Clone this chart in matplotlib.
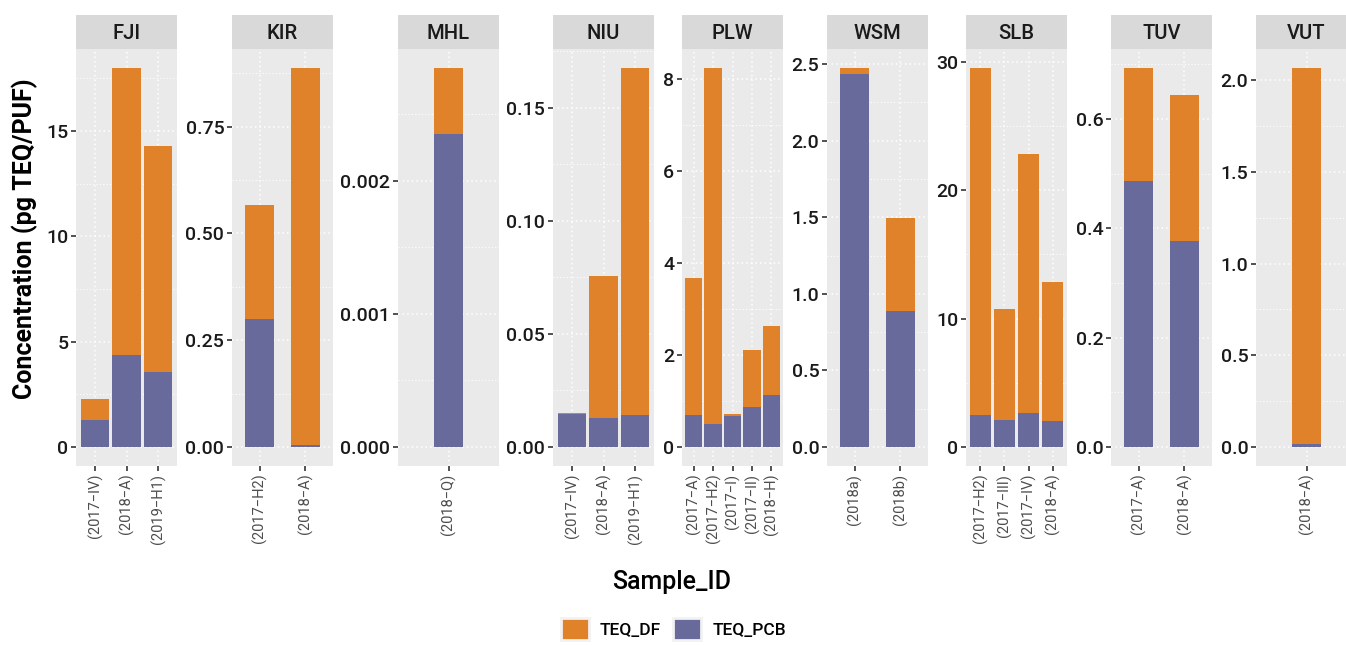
import numpy as np
import matplotlib
matplotlib.use("Agg")
import matplotlib.pyplot as plt
from matplotlib.patches import Patch
from matplotlib.ticker import MultipleLocator, FormatStrFormatter

plt.rcParams['font.family'] = ['Roboto', 'DejaVu Sans']

# countries shown as facets, left to right
countries = ["FJI", "KIR", "MHL", "NIU", "PLW", "WSM", "SLB", "TUV", "VUT"]

samples = {
    "FJI": ["(2017\u2212IV)", "(2018\u2212A)", "(2019\u2212H1)"],
    "KIR": ["(2017\u2212H2)", "(2018\u2212A)"],
    "MHL": ["(2018\u2212Q)"],
    "NIU": ["(2017\u2212IV)", "(2018\u2212A)", "(2019\u2212H1)"],
    "PLW": ["(2017\u2212A)", "(2017\u2212H2)", "(2017\u2212I)", "(2017\u2212II)", "(2018\u2212H)"],
    "WSM": ["(2018a)", "(2018b)"],
    "SLB": ["(2017\u2212H2)", "(2017\u2212III)", "(2017\u2212IV)", "(2018\u2212A)"],
    "TUV": ["(2017\u2212A)", "(2018\u2212A)"],
    "VUT": ["(2018\u2212A)"],
}

# TEQ from dioxins/furans and from dl-PCBs (pg TEQ/PUF)
teq_pcb = {
    "FJI": [1.28, 4.36, 3.55],
    "KIR": [0.299, 0.004],
    "MHL": [0.002352],
    "NIU": [0.0145, 0.0127, 0.0140],
    "PLW": [0.69, 0.51, 0.67, 0.86, 1.14],
    "WSM": [2.434, 0.89],
    "SLB": [2.46, 2.07, 2.62, 2.0],
    "TUV": [0.487, 0.377],
    "VUT": [0.015],
}
teq_df = {
    "FJI": [0.99, 13.64, 10.75],
    "KIR": [0.267, 0.883],
    "MHL": [0.000494],
    "NIU": [0.0004, 0.0630, 0.1535],
    "PLW": [2.99, 7.73, 0.04, 1.24, 1.50],
    "WSM": [0.040, 0.606],
    "SLB": [27.04, 8.71, 20.22, 10.88],
    "TUV": [0.206, 0.267],
    "VUT": [2.051],
}

# y break spacing and label format for each facet
y_step = {"FJI": 5, "KIR": 0.25, "MHL": 0.001, "NIU": 0.05, "PLW": 2,
          "WSM": 0.5, "SLB": 10, "TUV": 0.2, "VUT": 0.5}
y_fmt = {"FJI": "%.0f", "KIR": "%.2f", "MHL": "%.3f", "NIU": "%.2f", "PLW": "%.0f",
         "WSM": "%.1f", "SLB": "%.0f", "TUV": "%.1f", "VUT": "%.1f"}

col_df = "#E08229"
col_pcb = "#676A9A"
panel_bg = "#EBEAEB"
strip_bg = "#D9D9D9"

W, H = 1346, 646
fig = plt.figure(figsize=(W / 100, H / 100), dpi=100)

lefts = [76, 232, 398, 553, 682, 827, 966, 1111, 1256]
pw = 101
p_top, p_bot = 49, 466
s_top = 15
bar_px = 28.5  # bars never wider than this, in pixels

for c, lx in zip(countries, lefts):
    ax = fig.add_axes([lx / W, 1 - p_bot / H, pw / W, (p_bot - p_top) / H])
    sx = fig.add_axes([lx / W, 1 - p_top / H, pw / W, (p_top - s_top) / H])

    pcb = np.array(teq_pcb[c])
    df = np.array(teq_df[c])
    n = len(pcb)
    pos = np.arange(n)
    px_per_unit = pw / (n + 0.2)
    bw = min(0.9, bar_px / px_per_unit)

    ax.bar(pos, pcb, width=bw, color=col_pcb, linewidth=0, zorder=3)
    ax.bar(pos, df, bottom=pcb, width=bw, color=col_df, linewidth=0, zorder=3)

    top = (pcb + df).max()
    ax.set_ylim(-0.05 * top, 1.05 * top)
    ax.set_xlim(-0.6, n - 1 + 0.6)

    ax.set_facecolor(panel_bg)
    for sp in ax.spines.values():
        sp.set_visible(False)
    ax.yaxis.set_major_locator(MultipleLocator(y_step[c]))
    ax.yaxis.set_minor_locator(MultipleLocator(y_step[c] / 2))
    ax.yaxis.set_major_formatter(FormatStrFormatter(y_fmt[c]))
    ax.set_xticks(pos)
    ax.set_xticklabels(samples[c], rotation=90, fontsize=10.5, color="#4D4D4D")
    ax.tick_params(axis="y", which="major", labelsize=14, labelcolor="#1A1A1A",
                   length=3.5, width=1.2, color="#333333", pad=2)
    ax.tick_params(axis="y", which="minor", length=0)
    ax.tick_params(axis="x", length=3.5, width=1.2, color="#333333", pad=2)
    for lab in ax.get_yticklabels():
        lab.set_fontweight("medium")
    ax.grid(True, which="major", color="white", linestyle=(0, (1, 2)), linewidth=1.1, zorder=1)
    ax.grid(True, which="minor", axis="y", color="white", linestyle=(0, (1, 2)), linewidth=0.8, zorder=1)
    ax.set_axisbelow(True)

    sx.set_facecolor(strip_bg)
    sx.set_xticks([])
    sx.set_yticks([])
    for sp in sx.spines.values():
        sp.set_visible(False)
    sx.text(0.5, 0.45, c, ha="center", va="center", fontsize=14.5,
            fontweight="medium", color="#1A1A1A", transform=sx.transAxes)

fig.text(25 / W, 1 - 239 / H, "Concentration (pg TEQ/PUF)", rotation=90,
         ha="center", va="center", fontsize=18, fontweight="bold", color="black")
fig.text(672 / W, 1 - 582 / H, "Sample_ID", ha="center", va="center",
         fontsize=18, fontweight="medium", color="black")

handles = [Patch(facecolor=col_df, edgecolor="#F2F2F2", linewidth=2, label="TEQ_DF"),
           Patch(facecolor=col_pcb, edgecolor="#F2F2F2", linewidth=2, label="TEQ_PCB")]
leg = fig.legend(handles=handles, loc="upper left", bbox_to_anchor=(561 / W, 1 - 618 / H),
                 ncol=2, frameon=False, fontsize=12.5, handlelength=1.6, handleheight=1.6,
                 handletextpad=0.65, columnspacing=0.7, borderpad=0, borderaxespad=0)
for t in leg.get_texts():
    t.set_fontweight("medium")

fig.savefig("out.png", dpi=100)
